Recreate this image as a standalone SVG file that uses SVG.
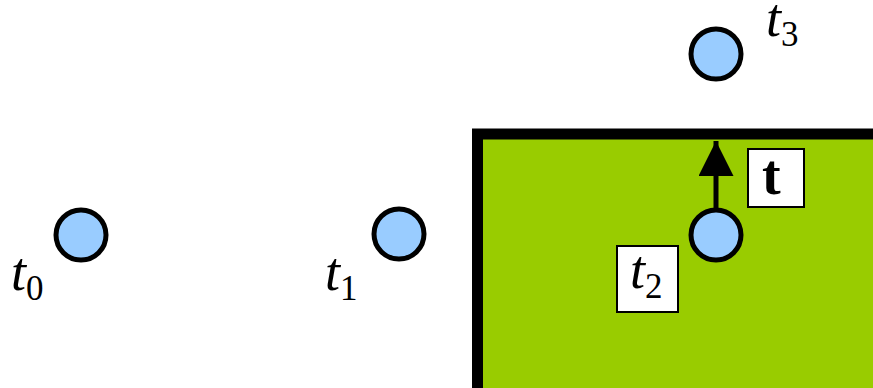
<svg xmlns="http://www.w3.org/2000/svg" width="873" height="388" viewBox="0 0 873 388">
<style>
.pt{fill:#99ccff;stroke:#000;stroke-width:5}
.lbl{font-family:"Liberation Serif","DejaVu Serif",serif;font-style:italic;font-size:54px;fill:#000}
.sub{font-style:normal;font-size:35px}
.box{fill:#fff;stroke:#000;stroke-width:2}
</style>
<defs>
<marker id="ah" viewBox="0 0 10 10" refX="10" refY="5" markerWidth="7" markerHeight="7" markerUnits="strokeWidth" orient="auto">
<path d="M0,0 L10,5 L0,10 z" fill="#000"/>
</marker>
</defs>
<rect id="region" x="477.5" y="134" width="420" height="280" fill="#99cc00" stroke="#000" stroke-width="11"/>
<g id="connectors">
<line x1="716" y1="209" x2="716" y2="141" stroke="#000" stroke-width="5" marker-end="url(#ah)"/>
</g>
<g id="t0">
<circle class="pt" cx="81" cy="235" r="25"/>
<text class="lbl" x="11" y="290">t<tspan class="sub" dy="10">0</tspan></text>
</g>
<g id="t1">
<circle class="pt" cx="399" cy="234" r="25"/>
<text class="lbl" x="325" y="290">t<tspan class="sub" dy="10">1</tspan></text>
</g>
<g id="t2">
<circle class="pt" cx="716" cy="235" r="25"/>
<rect class="box" x="617" y="246" width="61" height="66"/>
<text class="lbl" x="630" y="288">t<tspan class="sub" dy="10">2</tspan></text>
</g>
<g id="t3">
<circle class="pt" cx="716" cy="54" r="25"/>
<text class="lbl" x="766" y="36">t<tspan class="sub" dy="10">3</tspan></text>
</g>
<g id="tlabel">
<rect class="box" x="748" y="149" width="56" height="58"/>
<text x="762" y="194" font-family="Liberation Serif, DejaVu Serif, serif" font-weight="bold" font-size="56" fill="#000">t</text>
</g>
</svg>
